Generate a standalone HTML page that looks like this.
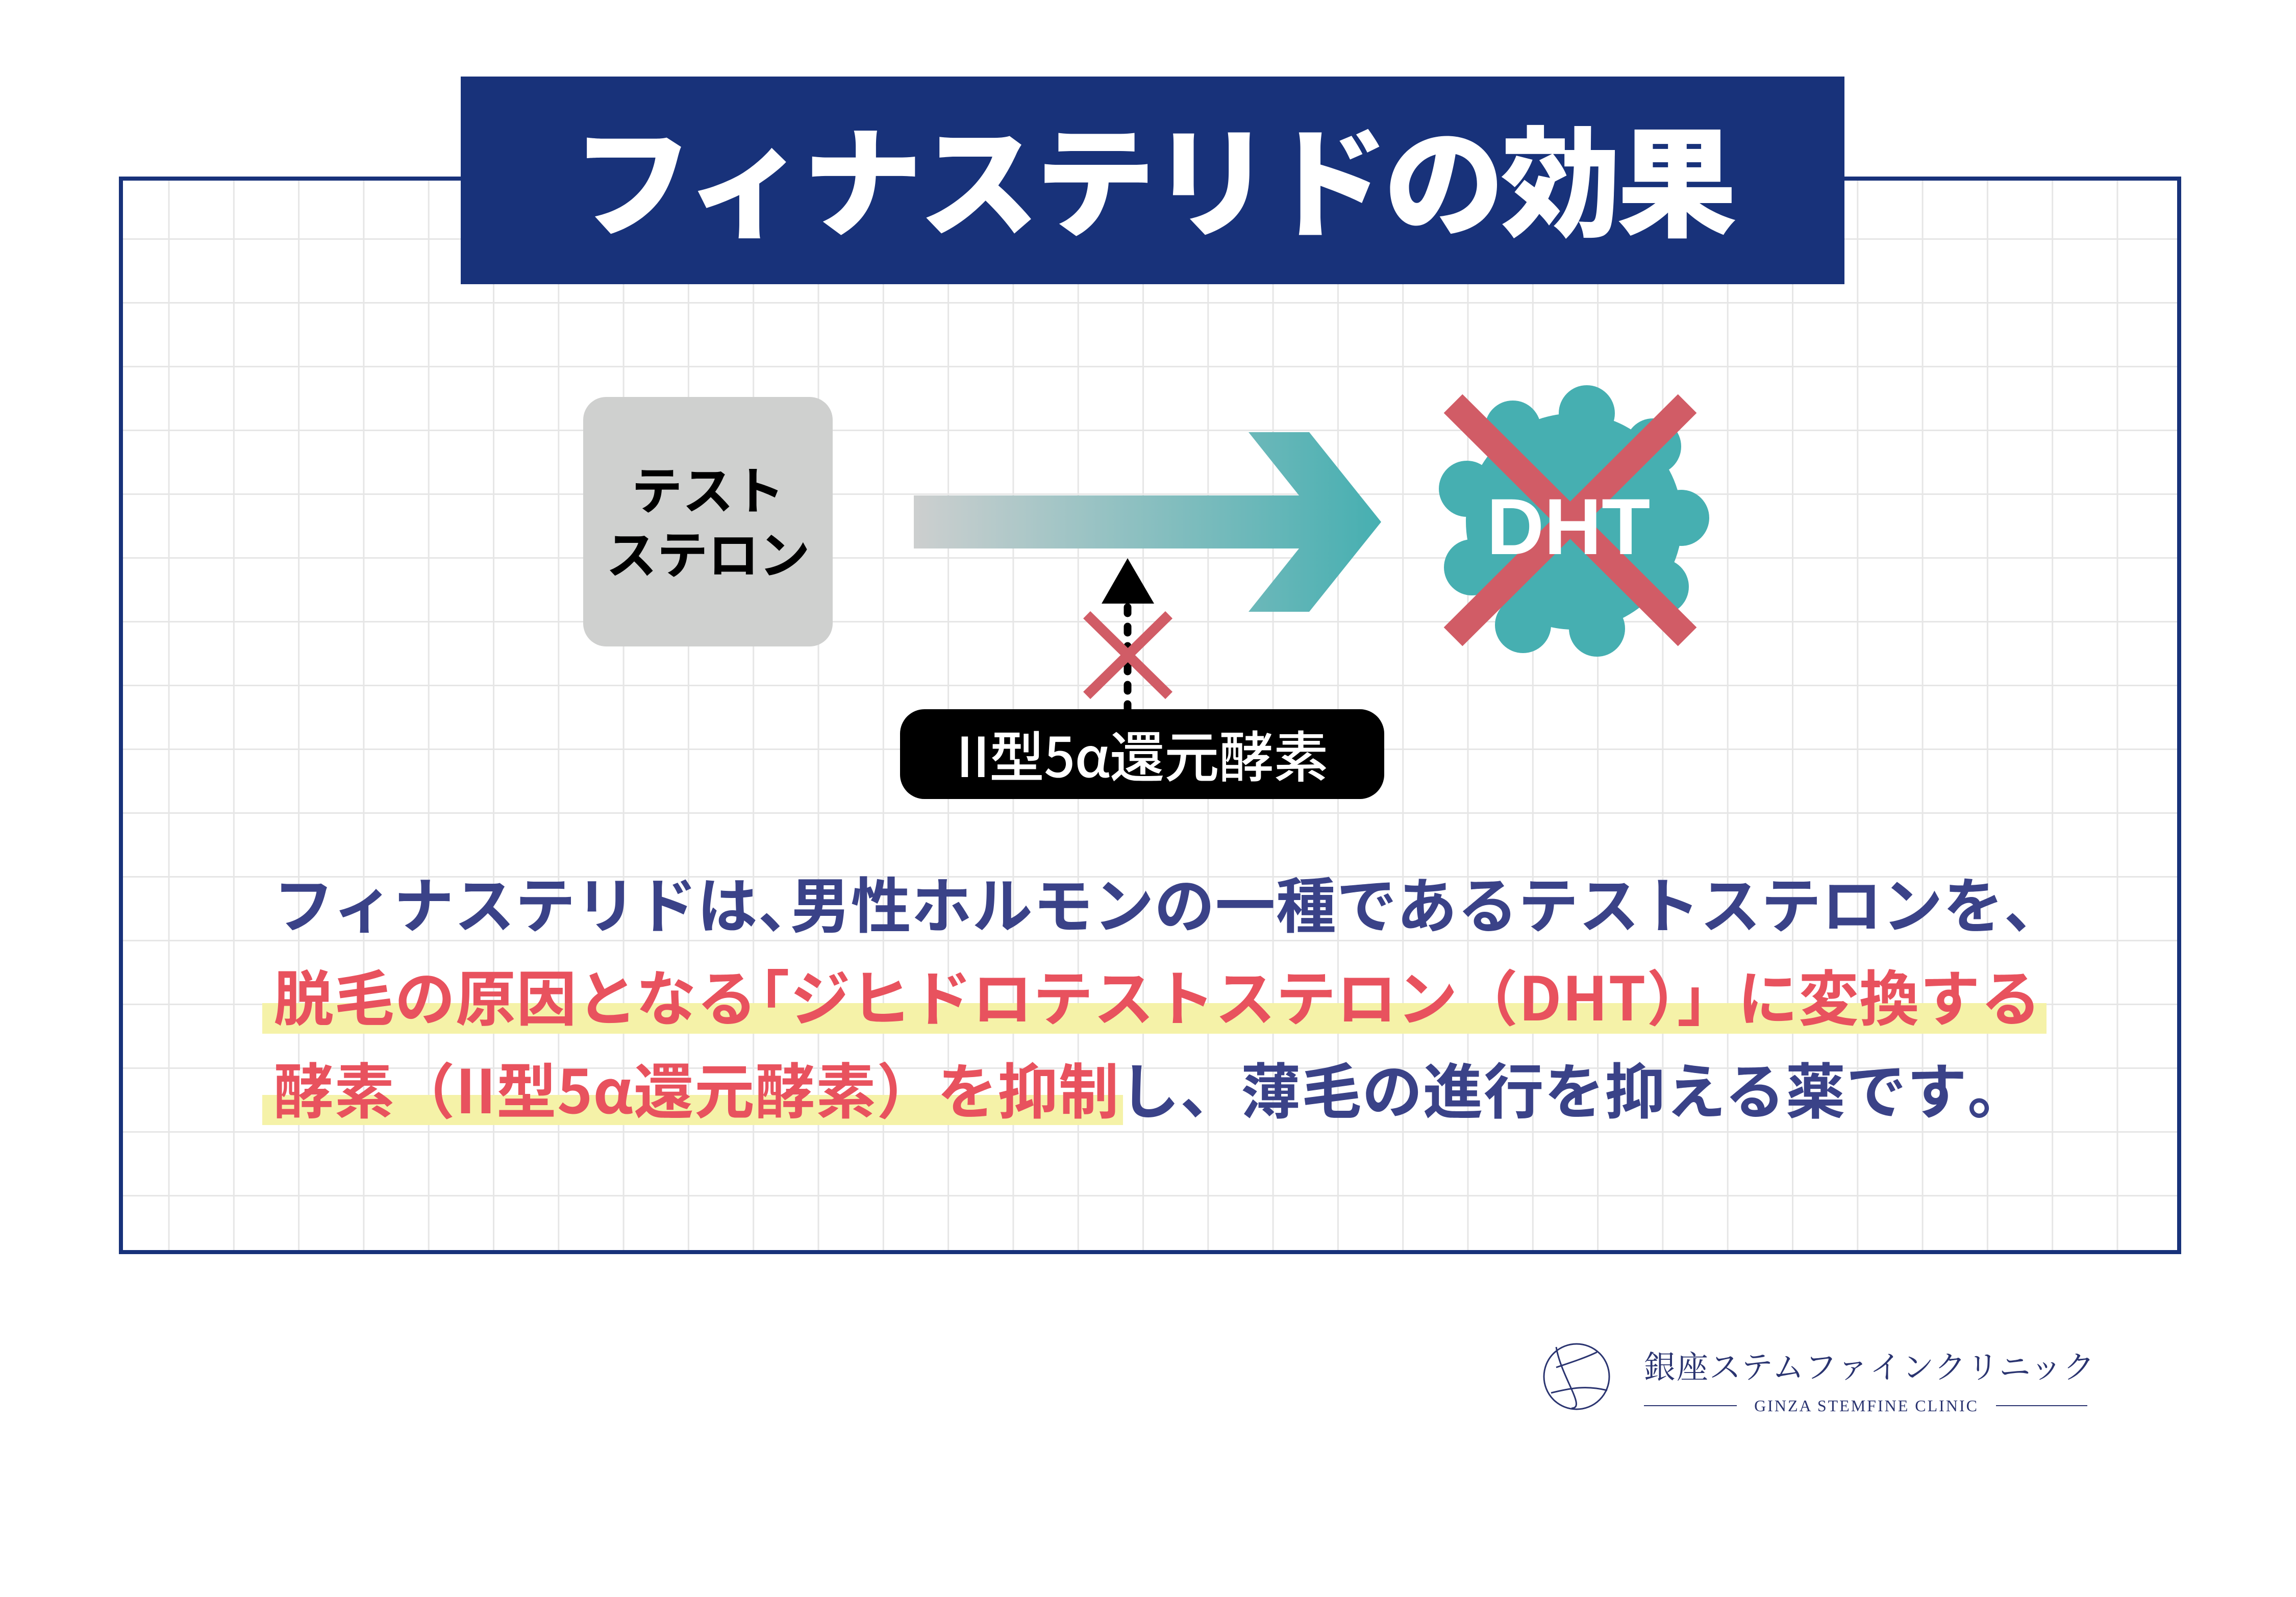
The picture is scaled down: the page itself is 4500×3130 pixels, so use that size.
<!DOCTYPE html>
<html><head><meta charset="utf-8"><style>
body{margin:0;width:4500px;height:3130px;background:#fff;position:relative;overflow:hidden;font-family:"Liberation Sans","Noto Sans CJK JP",sans-serif}
.a{position:absolute}
.jp{font-family:"Noto Sans CJK JP","Liberation Sans",sans-serif}
.ln{position:absolute;left:536px;white-space:nowrap;font-size:118px;line-height:118px;font-weight:700;letter-spacing:1px;color:#3a4288}
.r{color:#e8525e}
.c{letter-spacing:-55px}
.o{margin-left:-55px}
</style></head><body>
<svg class="a" style="left:0;top:0" width="4500" height="3130" viewBox="0 0 4500 3130">
<defs>
<pattern id="g" x="329.5" y="342" width="127.3" height="125" patternUnits="userSpaceOnUse">
<rect x="0" y="0" width="3" height="125" fill="#e6e6e6"/>
<rect x="0" y="0" width="127.3" height="3" fill="#e6e6e6"/>
</pattern>
<linearGradient id="ag" x1="1791" y1="0" x2="2707" y2="0" gradientUnits="userSpaceOnUse">
<stop offset="0" stop-color="#cdcfcf"/><stop offset="1" stop-color="#46afb1"/>
</linearGradient>
</defs>
<rect x="241" y="354" width="4026" height="2096" fill="url(#g)"/>
<rect x="237" y="350" width="4034" height="2104" fill="none" stroke="#18327a" stroke-width="8"/>
<rect x="903" y="150" width="2712" height="407" fill="#18327a"/>
<rect x="1143" y="778" width="489" height="489" rx="45" fill="#cfd0cf"/>
<polygon points="1791,971 2546,971 2447,847 2566,847 2707,1023 2566,1199 2447,1199 2546,1075 1791,1075" fill="url(#ag)"/>
<line x1="2210" y1="1190" x2="2210" y2="1392" stroke="#000" stroke-width="15" stroke-linecap="round" stroke-dasharray="12 26"/>
<polygon points="2210,1094 2262,1183 2159,1183" fill="#000"/>
<line x1="2130" y1="1205" x2="2291" y2="1363" stroke="#d15c66" stroke-width="20"/>
<line x1="2291" y1="1205" x2="2130" y2="1363" stroke="#d15c66" stroke-width="20"/>
<rect x="1764" y="1390" width="949" height="176" rx="48" fill="#000"/>
<g fill="#46afb1">
<circle cx="3085" cy="1022" r="212"/>
<circle cx="3110" cy="810" r="55"/>
<circle cx="2965" cy="840" r="55"/>
<circle cx="2875" cy="958" r="55"/>
<circle cx="2885" cy="1112" r="55"/>
<circle cx="2985" cy="1225" r="55"/>
<circle cx="3130" cy="1232" r="55"/>
<circle cx="3255" cy="1150" r="55"/>
<circle cx="3295" cy="1015" r="55"/>
<circle cx="3240" cy="875" r="55"/>
</g>
<line x1="2848" y1="791" x2="3307" y2="1248" stroke="#d15c66" stroke-width="52"/>
<line x1="3307" y1="791" x2="2848" y2="1248" stroke="#d15c66" stroke-width="52"/>
<text x="3074" y="1086" text-anchor="middle" font-family="Liberation Sans, sans-serif" font-weight="700" font-size="156" fill="#fff">DHT</text>
<rect x="514" y="1966" width="3497" height="60" fill="#f5f2a8"/>
<rect x="514" y="2146" width="1687" height="59" fill="#f5f2a8"/>
<circle cx="3090" cy="2698" r="64" fill="none" stroke="#2a3470" stroke-width="3"/>
<path d="M3050,2640 C3060,2700 3110,2760 3080,2760 M3050,2680 C3080,2670 3110,2660 3130,2650 M3040,2730 C3080,2720 3110,2715 3150,2725" fill="none" stroke="#2a3470" stroke-width="3"/>
<line x1="3222" y1="2755" x2="3404" y2="2755" stroke="#2a3470" stroke-width="2"/>
<line x1="3912" y1="2755" x2="4091" y2="2755" stroke="#2a3470" stroke-width="2"/>
</svg>
<div class="a jp" style="left:903px;width:2712px;top:222px;height:240px;line-height:240px;text-align:center;color:#fff;font-size:236px;font-weight:900;letter-spacing:-8px">フィナステリドの効果</div>
<div class="a jp" style="left:1143px;width:489px;top:892px;text-align:center;font-size:100px;line-height:126px;font-weight:700;color:#000">テスト<br>ステロン</div>
<div class="a jp" style="left:1764px;width:949px;top:1412px;height:130px;line-height:130px;text-align:center;font-size:108px;font-weight:500;color:#fff;letter-spacing:-1px">II型5α還元酵素</div>
<div class="ln jp" style="top:1708px">フィナステリドは<span class="c">、</span>男性ホルモンの一種であるテストステロンを<span class="c">、</span></div>
<div class="ln jp r" style="top:1890px">脱毛の原因となる<span class="o">「</span>ジヒドロテストステロン（DHT）」に変換する</div>
<div class="ln jp" style="top:2072px"><span class="r">酵素（II型5α還元酵素）を抑制</span>し、薄毛の進行を抑える薬です<span class="c">。</span></div>
<div class="a" style="left:3222px;top:2640px;font-family:'Noto Serif CJK SC','Liberation Serif',serif;font-size:62px;line-height:70px;color:#2a3470;letter-spacing:2px;white-space:nowrap">銀座ステムファインクリニック</div>
<div class="a" style="left:3404px;width:508px;top:2738px;text-align:center;font-family:'Liberation Serif',serif;font-size:32px;line-height:34px;color:#2a3470;letter-spacing:3px;white-space:nowrap">GINZA STEMFINE CLINIC</div>
</body></html>
